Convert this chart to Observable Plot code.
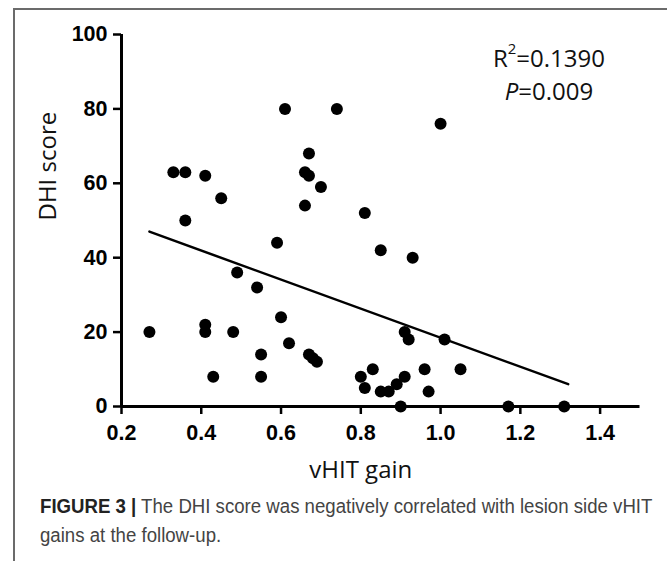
<!DOCTYPE html>
<html>
<head>
<meta charset="utf-8">
<script src="https://cdn.jsdelivr.net/npm/d3@7"></script>
<script src="https://cdn.jsdelivr.net/npm/@observablehq/plot@0.6"></script>
<style>
  body { margin: 0; background: white; }
  #fig { position: relative; width: 667px; height: 561px; overflow: hidden; background: white; }
  #frame { position: absolute; left: 13px; top: 8px; width: 700px; height: 600px; border-left: 2px solid #6b6b6b; border-top: 2px solid #6b6b6b; }
  #chart { position: absolute; left: 0; top: 0; }
  .ann { position: absolute; left: 449px; width: 200px; text-align: center; font-family: "Open Sans", sans-serif; font-size: 24px; line-height: 33px; color: #111; white-space: nowrap; }
  .ann sup { font-size: 0.62em; line-height: 0; position: relative; top: -0.3em; }
  #caption { position: absolute; left: 40px; top: 492px; width: 700px; font-family: "Liberation Sans", Arial, sans-serif; font-size: 19.5px; line-height: 29px; color: #444; white-space: nowrap; transform: scaleX(0.955); transform-origin: left top; }
  #caption b { color: #222; }
</style>
</head>
<body>
<div id="fig">
  <div id="chart"></div>
  <div id="frame"></div>
  <div class="ann" style="top:41px">R<sup>2</sup>=0.1390</div>
  <div class="ann" style="top:74px"><i>P</i>=0.009</div>
  <div id="caption"><b>FIGURE 3 |</b> The DHI score was negatively correlated with lesion side vHIT<br>gains at the follow-up.</div>
</div>
<script>
const gain = [0.27,0.33,0.36,0.36,0.41,0.41,0.41,0.43,0.45,0.48,0.49,0.54,0.55,0.55,0.59,0.60,0.61,0.62,0.66,0.67,0.67,0.66,0.67,0.68,0.69,0.70,0.74,0.80,0.81,0.81,0.83,0.85,0.85,0.87,0.89,0.90,0.91,0.91,0.92,0.93,0.96,0.97,1.00,1.01,1.05,1.17,1.31];
const dhi  = [20,63,63,50,62,22,20,8,56,20,36,32,14,8,44,24,80,17,63,62,68,54,14,13,12,59,80,8,5,52,10,42,4,4,6,0,8,20,18,40,10,4,76,18,10,0,0];
const fitGain = [0.27, 1.32];
const fitDhi = [47, 6];
const xTicks = [0.2, 0.4, 0.6, 0.8, 1.0, 1.2, 1.4];
const yTicks = [0, 20, 40, 60, 80, 100];
const xLabel = "vHIT gain";
const yLabel = "DHI score";

const points = gain.map((g, i) => ({gain: g, dhi: dhi[i]}));
const fit = fitGain.map((g, i) => ({gain: g, dhi: fitDhi[i]}));
const labelFont = "Open Sans";

const chart = Plot.plot({
  width: 667,
  height: 490,
  marginLeft: 121,
  marginRight: 27.5,
  marginTop: 34,
  marginBottom: 84,
  style: {background: "transparent", color: "black", overflow: "visible", fontFamily: "Liberation Sans, Arial, sans-serif"},
  x: {domain: [0.2, 1.5]},
  y: {domain: [0, 100]},
  marks: [
    Plot.axisX({ticks: xTicks, tickFormat: d => d.toFixed(1), tickSize: 8, tickPadding: 10, strokeWidth: 2.5, fontSize: 21.5, fontWeight: "bold", label: null}),
    Plot.axisY({ticks: yTicks, tickSize: 8, tickPadding: 6, strokeWidth: 2.5, fontSize: 21.5, fontWeight: "bold", label: null}),
    Plot.ruleY([0], {stroke: "black", strokeWidth: 3}),
    Plot.ruleX([0.2], {stroke: "black", strokeWidth: 3}),
    Plot.line(fit, {x: "gain", y: "dhi", stroke: "black", strokeWidth: 2.5}),
    Plot.dot(points, {x: "gain", y: "dhi", r: 6, fill: "black", stroke: "none"}),
    Plot.text([xLabel], {frameAnchor: "bottom", dx: -20, dy: 54, lineAnchor: "top", fontSize: 24, fontFamily: labelFont, fill: "#111"}),
    Plot.text([yLabel], {frameAnchor: "left", dx: -73, rotate: -90, fontSize: 24, fontFamily: labelFont, fill: "#111"})
  ]
});
document.getElementById("chart").appendChild(chart);
</script>
</body>
</html>
